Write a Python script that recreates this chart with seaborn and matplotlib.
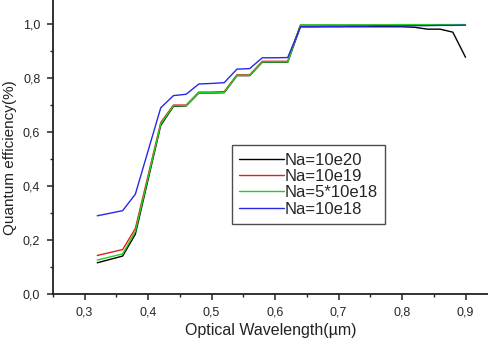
import numpy as np
import pandas as pd
import seaborn as sns
import matplotlib
matplotlib.use("Agg")
import matplotlib.pyplot as plt
from matplotlib.ticker import MultipleLocator, FuncFormatter

# Wavelength sample points (um)
wavelength = [0.32, 0.36, 0.38, 0.42, 0.44, 0.46, 0.48, 0.50, 0.52, 0.54,
              0.56, 0.58, 0.60, 0.62, 0.64, 0.66, 0.68, 0.70, 0.72, 0.74,
              0.76, 0.78, 0.80, 0.82, 0.84, 0.86, 0.88, 0.90]

qe_10e20 = [0.116, 0.141, 0.222, 0.625, 0.695, 0.697, 0.745, 0.745, 0.746, 0.809,
            0.809, 0.859, 0.859, 0.859, 0.990, 0.990, 0.990, 0.990, 0.990, 0.990,
            0.990, 0.990, 0.990, 0.988, 0.981, 0.981, 0.970, 0.877]
qe_10e19 = [0.143, 0.165, 0.243, 0.635, 0.700, 0.700, 0.748, 0.748, 0.750, 0.812,
            0.812, 0.862, 0.862, 0.862, 0.996, 0.996, 0.996, 0.996, 0.996, 0.996,
            0.996, 0.996, 0.997, 0.997, 0.997, 0.997, 0.997, 0.997]
qe_5x10e18 = [0.126, 0.149, 0.232, 0.630, 0.697, 0.698, 0.746, 0.746, 0.747, 0.810,
              0.810, 0.860, 0.860, 0.860, 0.997, 0.997, 0.997, 0.997, 0.997, 0.997,
              0.997, 0.997, 0.998, 0.998, 0.998, 0.998, 0.998, 0.998]
qe_10e18 = [0.290, 0.309, 0.370, 0.690, 0.735, 0.740, 0.778, 0.780, 0.783, 0.833,
            0.835, 0.875, 0.875, 0.876, 0.990, 0.990, 0.991, 0.991, 0.992, 0.992,
            0.993, 0.993, 0.993, 0.994, 0.994, 0.995, 0.995, 0.996]

labels = ["Na=10e20", "Na=10e19", "Na=5*10e18", "Na=10e18"]
colors = ["#000000", "#e02020", "#20d020", "#2828e8"]

df = pd.concat([
    pd.DataFrame({"x": wavelength, "y": vals, "series": lab})
    for lab, vals in zip(labels, [qe_10e20, qe_10e19, qe_5x10e18, qe_10e18])
])

sns.set_style("ticks")
plt.rcParams["font.family"] = ["Liberation Sans", "DejaVu Sans"]

fig = plt.figure(figsize=(4.89, 3.44), dpi=100)
ax = fig.add_axes([0.108, 0.145, 0.892, 0.855])

sns.lineplot(data=df, x="x", y="y", hue="series", palette=dict(zip(labels, colors)),
             linewidth=1.0, ax=ax, estimator=None, sort=False)

ax.set_xlim(0.25, 0.937)
ax.set_ylim(0, 1.089)
ax.xaxis.set_major_locator(MultipleLocator(0.1))
ax.xaxis.set_minor_locator(MultipleLocator(0.05))
ax.yaxis.set_major_locator(MultipleLocator(0.2))
ax.yaxis.set_minor_locator(MultipleLocator(0.1))
comma = FuncFormatter(lambda v, p: f"{v:.1f}".replace(".", ","))
ax.xaxis.set_major_formatter(comma)
ax.yaxis.set_major_formatter(comma)

for s in ["top", "right"]:
    ax.spines[s].set_visible(False)
for s in ["left", "bottom"]:
    ax.spines[s].set_linewidth(1.3)
    ax.spines[s].set_color("#222222")
ax.tick_params(which="major", length=4, width=1.1, labelsize=9, color="#222222", pad=5)
ax.tick_params(which="minor", length=2.5, width=1.0, color="#222222")

ax.set_xlabel("Optical Wavelength(\u00b5m)", fontsize=11.5, labelpad=3, color="#222222")
ax.set_ylabel("Quantum efficiency(%)", fontsize=11, color="#222222")
ax.yaxis.set_label_coords(-0.082, 0.463)

handles, labs = ax.get_legend_handles_labels()
leg = ax.legend(handles, labs, loc="upper left", bbox_to_anchor=(0.41, 0.507),
                fontsize=12, frameon=True, fancybox=False, edgecolor="#222222",
                handlelength=2.7, handletextpad=0.0, labelspacing=0.08,
                borderpad=0.45, borderaxespad=0)
leg.get_frame().set_linewidth(1.0)

fig.savefig("out.png", dpi=100)
